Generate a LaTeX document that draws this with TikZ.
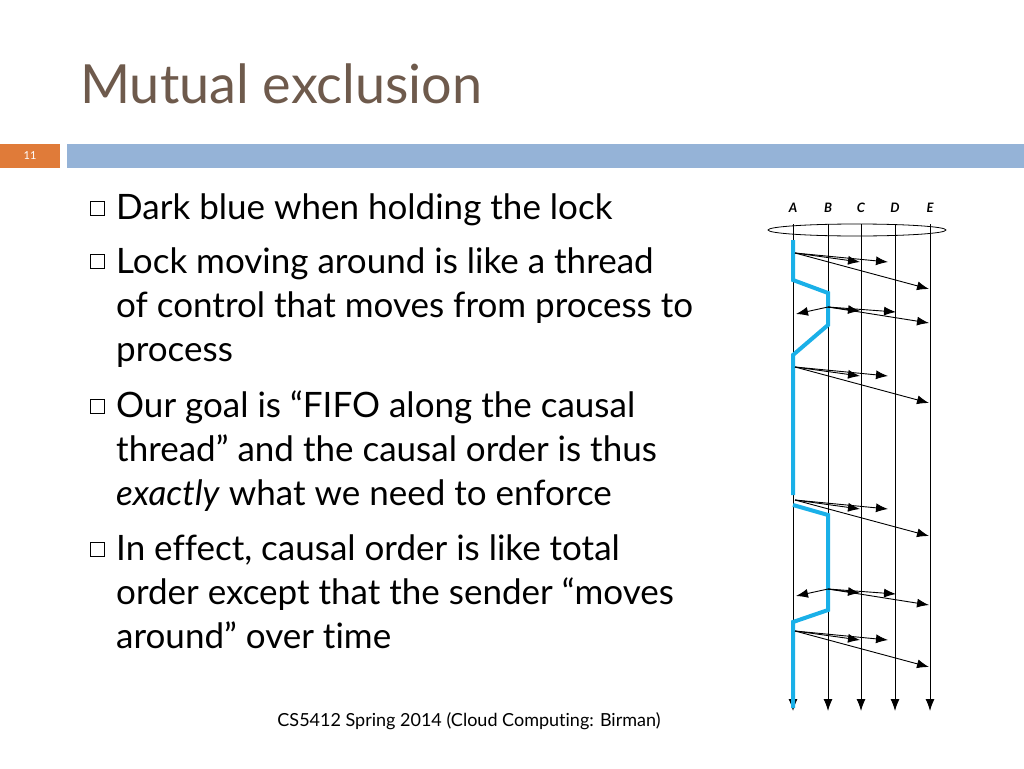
\documentclass[tikz,border=0pt]{standalone}
\usepackage{fontspec}
\setmainfont{Lato}[Ligatures=NoCommon]
\usetikzlibrary{arrows.meta}
\definecolor{titlebrown}{HTML}{6E5A4C}
\definecolor{barblue}{HTML}{95B3D7}
\definecolor{numorange}{HTML}{E07B39}
\definecolor{lockblue}{HTML}{1AB0E8}
\tikzset{
  bullet/.style={draw, minimum size=14pt, inner sep=0pt, line width=0.8pt},
  item/.style={anchor=base west, font=\fontsize{35}{44}\selectfont, align=left, inner sep=0pt},
  proc/.style={font=\fontsize{13}{14}\selectfont\itshape\bfseries},
  msg/.style={-{Latex[length=12pt,width=9pt]}, line width=0.9pt},
  lock/.style={lockblue, line width=4pt}
}
\begin{document}
\begin{tikzpicture}[x=1pt, y=-1pt]
  \useasboundingbox (0,0) rectangle (1024,768);
  % title and bar
  \node[anchor=base west, titlebrown, font=\fontsize{54}{58}\selectfont, inner sep=0pt] (title) at (80,103) {Mutual exclusion};
  \fill[numorange] (0,144) rectangle (60,168);
  \fill[barblue] (67,144) rectangle (1024,168);
  \node[white, font=\fontsize{11}{12}\selectfont] (num) at (30,156) {11};
  % bullets
  \foreach \y in {208,261,406,549} \node[bullet] at (97,\y) {};
  \node[item] (t1) at (116,219) {Dark blue when holding the lock};
  \node[item] (t2) at (116,273) {Lock moving around is like a thread};
  \node[item] (t2b) at (116,317) {of control that moves from process to};
  \node[item] (t2c) at (116,361) {process};
  \node[item] (t3) at (116,417) {Our goal is “FIFO along the causal};
  \node[item] (t3b) at (116,461) {thread” and the causal order is thus};
  \node[item] (t3c) at (116,505) {\textit{exactly} what we need to enforce};
  \node[item] (t4) at (116,560) {In effect, causal order is like total};
  \node[item] (t4b) at (116,604) {order except that the sender “moves};
  \node[item] (t4c) at (116,648) {around” over time};
  \node[font=\fontsize{18}{20}\selectfont] (foot) at (469,721) {CS5412 Spring 2014 (Cloud Computing: Birman)};
  % processes
  \draw[line width=0.8pt] (857,230) ellipse (89 and 6);
  \foreach \n/\x in {A/793,B/828,C/861,D/895,E/930} {
    \node[proc] (\n) at (\x,208) {\n};
    \coordinate (\n top) at (\x,224);
    \coordinate (\n bot) at (\x,711);
    \draw[msg] (\n top) -- (\n bot);
  }
  % lock path
  \draw[lock] (793,240) -- (793,280) -- (828,293) -- (828,325) -- (793,355) -- (793,495);
  \draw[lock] (793,505) -- (828,515) -- (828,610) -- (793,622) -- (793,708);
  % messages from A
  \foreach \y in {253,367,500,631} {
    \coordinate (s) at (795,\y);
    \draw[msg] (s) -- (860,\y+9);
    \draw[msg] (s) -- (888,\y+9);
    \draw[msg] (s) -- (929,\y+36);
  }
  % messages from B
  \foreach \y in {307,589} {
    \coordinate (s) at (828,\y);
    \draw[msg] (s) -- (796,\y+7);
    \draw[msg] (s) -- (860,\y+4);
    \draw[msg] (s) -- (896,\y+5);
    \draw[msg] (s) -- (929,\y+16);
  }
\end{tikzpicture}
\end{document}
